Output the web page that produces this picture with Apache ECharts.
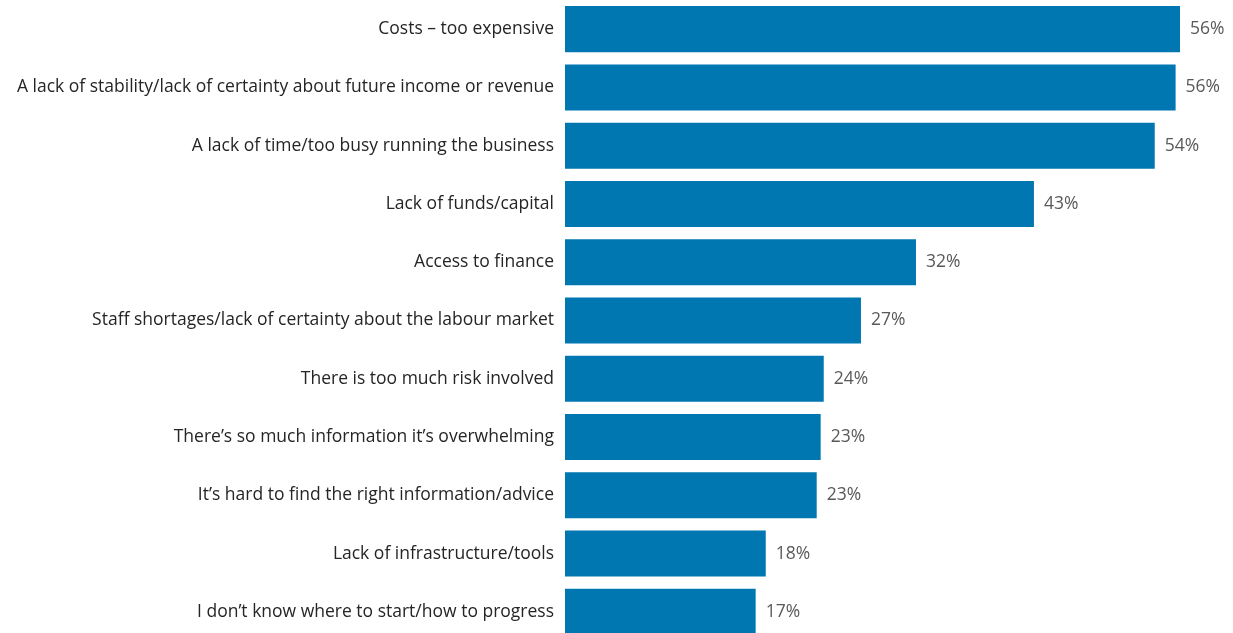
<!DOCTYPE html>
<html>
<head>
<meta charset="utf-8">
<script src="https://cdn.jsdelivr.net/npm/echarts@6/dist/echarts.min.js"></script>
<style>
html,body{margin:0;padding:0;background:#fff;overflow:hidden;width:1233px;height:633px;}
#chart{width:1233px;height:641px;}
</style>
</head>
<body>
<div id="chart"></div>
<script>
const categories = [
  "Costs – too expensive",
  "A lack of stability/lack of certainty about future income or revenue",
  "A lack of time/too busy running the business",
  "Lack of funds/capital",
  "Access to finance",
  "Staff shortages/lack of certainty about the labour market",
  "There is too much risk involved",
  "There’s so much information it’s overwhelming",
  "It’s hard to find the right information/advice",
  "Lack of infrastructure/tools",
  "I don’t know where to start/how to progress"
];
const values = [56.0, 55.6, 53.7, 42.7, 31.96, 26.95, 23.56, 23.28, 22.92, 18.28, 17.36];

const chart = echarts.init(document.getElementById('chart'));
chart.setOption({
  animation: false,
  backgroundColor: '#ffffff',
  grid: { left: 565, width: 615, top: 0, height: 641, containLabel: false },
  xAxis: {
    type: 'value', min: 0, max: 56,
    show: false
  },
  yAxis: {
    type: 'category',
    data: categories,
    inverse: true,
    axisLine: { show: false },
    axisTick: { show: false },
    axisLabel: {
      margin: 11,
      color: '#252525',
      fontFamily: 'Open Sans',
      fontSize: 17.5,
      padding: [3, 0, 0, 0]
    }
  },
  series: [{
    type: 'bar',
    data: values,
    barCategoryGap: '21%',
    itemStyle: { color: '#0077B1' },
    label: {
      show: true,
      position: 'right',
      distance: 10,
      color: '#595959',
      fontFamily: 'Open Sans',
      fontSize: 17.5,
      padding: [3, 0, 0, 0],
      formatter: p => Math.round(p.value) + '%'
    }
  }]
});
</script>
</body>
</html>
